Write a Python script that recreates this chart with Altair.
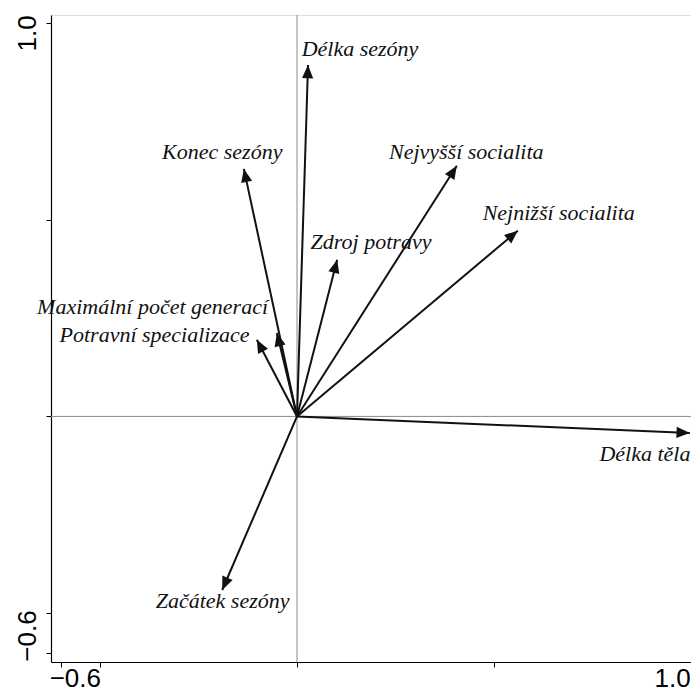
import altair as alt
import numpy as np
import pandas as pd

# Variable names (Czech), arrow tips and label anchors in ordination units
names = ["Délka těla", "Délka sezóny", "Konec sezóny", "Nejvyšší socialita",
         "Nejnižší socialita", "Zdroj potravy", "Maximální počet generací",
         "Potravní specializace", "Začátek sezóny"]
tip_x = [0.998, 0.028, -0.135, 0.406, 0.561, 0.102, -0.051, -0.102, -0.190]
tip_y = [-0.042, 0.893, 0.629, 0.637, 0.472, 0.398, 0.212, 0.195, -0.441]
lab_x = [0.884, 0.160, -0.190, 0.430, 0.665, 0.188, -0.367, -0.362, -0.189]
lab_y = [-0.113, 0.916, 0.654, 0.654, 0.4995, 0.426, 0.261, 0.1895, -0.486]

tick_values = [-0.6, -0.5, 0.0, 0.5, 1.0]
x_domain = [-0.625, 1.001]
y_domain = [-0.624, 1.020]

W = 640
H = 647
sx = W / (x_domain[1] - x_domain[0])
sy = H / (y_domain[1] - y_domain[0])

df = pd.DataFrame({"name": names, "x": tip_x, "y": tip_y,
                   "lx": lab_x, "ly": lab_y})
df["ox"] = 0.0
df["oy"] = 0.0
df["angle"] = (np.degrees(np.arctan2(df["x"] * sx, df["y"] * sy))) % 360

zero = pd.DataFrame({"v": [0.0]})

xscale = alt.Scale(domain=x_domain, nice=False, zero=False)
yscale = alt.Scale(domain=y_domain, nice=False, zero=False)

label_expr = "(datum.value == 1 || datum.value == -0.6) ? format(datum.value, '.1f') : ''"

x_axis = alt.Axis(values=tick_values, title=None, grid=False, labelExpr=label_expr,
                  labelFont="Liberation Sans", labelFontSize=26, labelColor="black",
                  labelAlign="center", labelBaseline="alphabetic", labelPadding=19,
                  labelOffset={"condition": {"test": "datum.value > 0", "value": -18.5},
                               "value": 14},
                  labelOverlap=False, labelBound=False, labelFlush=False,
                  tickSize=5, tickColor="black", tickWidth=1,
                  domainColor="black", domainWidth=1.2)
y_axis = alt.Axis(values=tick_values, title=None, grid=False, labelExpr=label_expr,
                  labelFont="Liberation Sans", labelFontSize=26, labelColor="black",
                  labelAngle=270, labelAlign="center", labelBaseline="alphabetic",
                  labelPadding=11,
                  labelOffset={"condition": {"test": "datum.value > 0", "value": 10},
                               "value": -17},
                  labelOverlap=False, labelBound=False, labelFlush=False,
                  tickSize=5, tickColor="black", tickWidth=1,
                  domainColor="black", domainWidth=1.2)

vline = alt.Chart(zero).mark_rule(color="#8c8c8c", strokeWidth=1).encode(
    x=alt.X("v:Q", scale=xscale, axis=x_axis))
hline = alt.Chart(zero).mark_rule(color="#8c8c8c", strokeWidth=1).encode(
    y=alt.Y("v:Q", scale=yscale, axis=y_axis))

shafts = alt.Chart(df).mark_rule(color="#111111", strokeWidth=2).encode(
    x=alt.X("ox:Q", scale=xscale), y=alt.Y("oy:Q", scale=yscale),
    x2="x:Q", y2="y:Q")

heads = alt.Chart(df).mark_point(
    shape="M0,0L-0.8,1.9L0.8,1.9Z", filled=True, color="#111111",
    opacity=1, size=196, strokeWidth=0).encode(
    x=alt.X("x:Q", scale=xscale), y=alt.Y("y:Q", scale=yscale),
    angle=alt.Angle("angle:Q", scale=None))

labels = alt.Chart(df).mark_text(
    font="Liberation Serif", fontStyle="italic",
    fontSize=22, color="#111111",
    align="center", baseline="alphabetic").encode(
    x=alt.X("lx:Q", scale=xscale), y=alt.Y("ly:Q", scale=yscale),
    text="name:N")

chart = alt.layer(vline, hline, shafts, heads, labels).properties(
    width=W, height=H,
    autosize=alt.AutoSizeParams(type="none"),
    padding={"left": 43, "top": 7, "right": 0, "bottom": 29},
).configure_view(stroke="#a0a0a0", strokeWidth=1).configure(background="white")

chart.save("out.html", embed_options={"renderer": "svg", "actions": False})
